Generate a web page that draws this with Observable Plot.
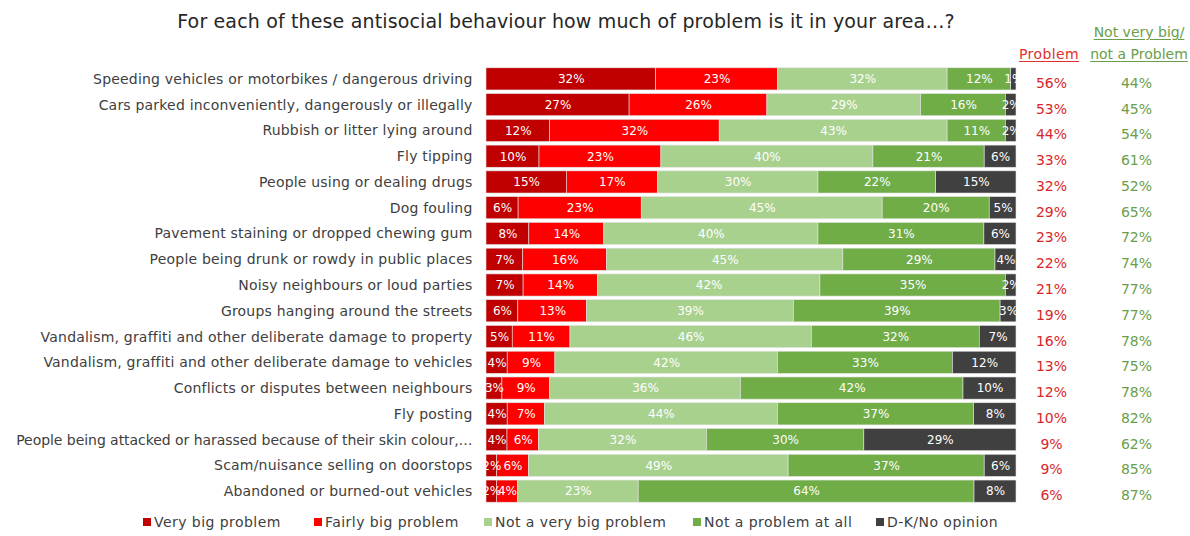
<!DOCTYPE html>
<html>
<head>
<meta charset="utf-8">
<script src="https://cdn.jsdelivr.net/npm/d3@7"></script>
<script src="https://cdn.jsdelivr.net/npm/@observablehq/plot@0.6"></script>
<style>
  html, body { margin: 0; padding: 0; background: #fff; }
  body { font-family: "DejaVu Sans", sans-serif; color: #404040; }
  #wrap { position: relative; width: 1190px; height: 536px; overflow: hidden; }
  #title { position: absolute; top: 10px; left: 0; width: 1132px; text-align: center; font-size: 19px; letter-spacing: 0.15px; color: #262626; }
  .hdr { position: absolute; font-size: 14px; text-decoration: underline; text-underline-offset: 2px; line-height: 22px; }
  #hProblem { left: 1019px; top: 43px; color: #e0302f; letter-spacing: 0.4px; }
  #hNot { left: 1088px; top: 21px; color: #6a9e4a; text-align: center; width: 102px; }
  #chart { position: absolute; top: 0; left: 0; }
  #legend { position: absolute; top: 514px; left: 0; width: 1190px; height: 20px; font-size: 14px; letter-spacing: 0.45px; color: #404040; }
  .li { position: absolute; top: 0; display: flex; align-items: center; white-space: nowrap; }
  .sw { width: 8px; height: 8px; margin-right: 3px; display: inline-block; }
  #chart svg g[aria-label="y-axis tick label"] text { letter-spacing: 0.2px; }
  #chart svg g[aria-label="y-axis tick label"] text.long { letter-spacing: -0.05px; }
</style>
</head>
<body>
<div id="wrap">
  <div id="chart"></div>
  <div id="title">For each of these antisocial behaviour how much of problem is it in your area…?</div>
  <div class="hdr" id="hProblem">Problem</div>
  <div class="hdr" id="hNot">Not very big/<br>not a Problem</div>
  <div id="legend"></div>
</div>
<script>
const categories = [
  "Speeding vehicles or motorbikes / dangerous driving",
  "Cars parked inconveniently, dangerously or illegally",
  "Rubbish or litter lying around",
  "Fly tipping",
  "People using or dealing drugs",
  "Dog fouling",
  "Pavement staining or dropped chewing gum",
  "People being drunk or rowdy in public places",
  "Noisy neighbours or loud parties",
  "Groups hanging around the streets",
  "Vandalism, graffiti and other deliberate damage to property",
  "Vandalism, graffiti and other deliberate damage to vehicles",
  "Conflicts or disputes between neighbours",
  "Fly posting",
  "People being attacked or harassed because of their skin colour,…",
  "Scam/nuisance selling on doorstops",
  "Abandoned or burned-out vehicles"
];
const seriesNames = ["Very big problem", "Fairly big problem", "Not a very big problem", "Not a problem at all", "D-K/No opinion"];
const seriesColors = ["#C00000", "#FF0000", "#A9D18E", "#70AD47", "#404040"];
const veryBig    = [32, 27, 12, 10, 15, 6, 8, 7, 7, 6, 5, 4, 3, 4, 4, 2, 2];
const fairlyBig  = [23, 26, 32, 23, 17, 23, 14, 16, 14, 13, 11, 9, 9, 7, 6, 6, 4];
const notVeryBig = [32, 29, 43, 40, 30, 45, 40, 45, 42, 39, 46, 42, 36, 44, 32, 49, 23];
const notAtAll   = [12, 16, 11, 21, 22, 20, 31, 29, 35, 39, 32, 33, 42, 37, 30, 37, 64];
const dkNo       = [1, 2, 2, 6, 15, 5, 6, 4, 2, 3, 7, 12, 10, 8, 29, 6, 8];
const problemTotal    = [56, 53, 44, 33, 32, 29, 23, 22, 21, 19, 16, 13, 12, 10, 9, 9, 6];
const notProblemTotal = [44, 45, 54, 61, 52, 65, 72, 74, 77, 77, 78, 75, 78, 82, 62, 85, 87];

const seriesValues = [veryBig, fairlyBig, notVeryBig, notAtAll, dkNo];
const data = [];
categories.forEach((c, i) => {
  seriesNames.forEach((s, j) => data.push({label: c, series: s, value: seriesValues[j][i]}));
});
const totals = categories.map((c, i) => ({label: c, problem: problemTotal[i], notProblem: notProblemTotal[i]}));

const stackOpts = {x: "value", y: "label", z: "series", offset: "normalize", order: null};

const chart = Plot.plot({
  width: 1190,
  height: 510,
  marginLeft: 486,
  marginRight: 174,
  marginTop: 66,
  marginBottom: 6,
  style: {fontFamily: "'DejaVu Sans', sans-serif", fontSize: "14px", color: "#404040", background: "transparent"},
  x: {axis: null, domain: [0, 1]},
  y: {domain: categories, paddingInner: 0.14, paddingOuter: 0.07, round: false, label: null},
  color: {domain: seriesNames, range: seriesColors},
  marks: [
    Plot.barX(data, Plot.stackX({...stackOpts, fill: "series", stroke: "#e3e3e3", strokeWidth: 0.6})),
    Plot.text(data, Plot.stackX({...stackOpts, text: d => d.value + "%", fill: "white", fontSize: 12})),
    Plot.text(totals, {y: "label", frameAnchor: "right", textAnchor: "middle", dx: 35, dy: 4, text: d => d.problem + "%", fill: "#d9262a", fontSize: 14}),
    Plot.text(totals, {y: "label", frameAnchor: "right", textAnchor: "middle", dx: 120, dy: 4, text: d => d.notProblem + "%", fill: "#6a9e4a", fontSize: 14}),
    Plot.axisY({tickSize: 0, tickPadding: 14, fontSize: 14, fill: "#404040", label: null})
  ]
});
document.getElementById("chart").appendChild(chart);
d3.select(chart).selectAll('g[aria-label="y-axis tick label"] text')
  .filter(function() { return this.textContent.length > 60; })
  .classed("long", true);

const legendX = [143, 314, 484, 693, 876];
const legend = document.getElementById("legend");
seriesNames.forEach((s, j) => {
  const item = document.createElement("div");
  item.className = "li";
  item.style.left = legendX[j] + "px";
  item.innerHTML = `<span class="sw" style="background:${seriesColors[j]}"></span>${s}`;
  legend.appendChild(item);
});
</script>
</body>
</html>
